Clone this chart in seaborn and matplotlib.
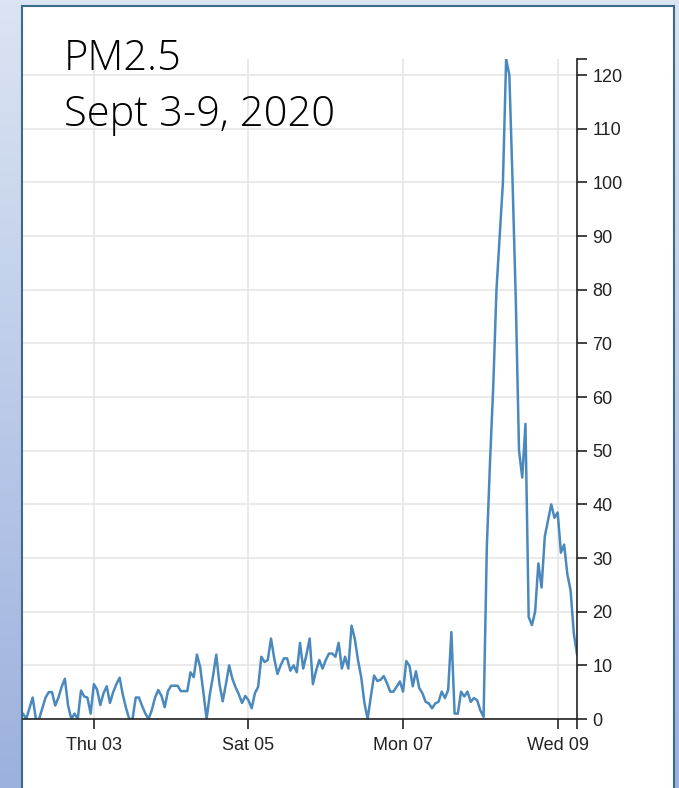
import numpy as np
import pandas as pd
import matplotlib
matplotlib.use("Agg")
import matplotlib.pyplot as plt
import matplotlib.dates as mdates
from matplotlib.patches import Rectangle
from matplotlib.colors import LinearSegmentedColormap
import seaborn as sns

# hourly PM2.5 readings starting Sept 2, 02:00
start_time = "2020-09-02 02:00"
pm25 = [
    1, 0, 2, 4, 0, 0, 2, 4, 5, 5, 2.5, 4, 6, 7.5, 2.5, 0, 1, 0, 5.3, 4.2,
    4, 1, 6.5, 5.5, 2.6, 4.8, 6.1, 3, 5, 6.5, 7.7, 4.5, 2, 0, 0, 4, 4, 2.4,
    1, 0, 1.7, 4, 5.4, 4.3, 2.2, 5.2, 6.2, 6.2, 6.2, 5.2, 5.2, 5.2, 8.7, 7.8,
    12, 9.7, 5, 0, 4.6, 8, 12, 6.5, 3.3, 6.5, 10, 7.5, 5.9, 4.6, 3, 4.3, 3.5,
    2, 4.8, 6, 11.6, 10.6, 11, 15, 11.3, 8.4, 10, 11.3, 11.3, 9, 10, 8.7,
    14.2, 9.4, 12, 15, 6.5, 9, 11, 9.4, 11, 12.2, 12.2, 11.6, 14.2, 9.4,
    11.6, 9.4, 17.4, 15, 11, 7.8, 3, 0, 4.2, 8.1, 7.1, 7.3, 8, 6.7, 5.1, 5.1,
    6, 7, 5.1, 10.8, 9.9, 6.1, 8.9, 5.8, 4.8, 3.2, 2.9, 2, 2.9, 3.2, 5.1, 3.9,
    5.4, 16.2, 1, 1, 5.1, 4.2, 5.1, 3.2, 3.9, 3.5, 1.6, 0.4, 32, 48, 62, 80,
    90, 100, 123, 120, 100, 78, 50, 45, 55, 19, 17.5, 20, 29, 24.5, 34, 37,
    40, 37.5, 38.5, 31, 32.5, 27, 24, 16, 12,
]
tick_days = ["2020-09-03", "2020-09-05", "2020-09-07", "2020-09-09"]
y_ticks = list(range(0, 130, 10))
title_lines = ["PM2.5", "Sept 3-9, 2020"]

sns.set_style("whitegrid")
plt.rcParams["font.family"] = ["Liberation Sans", "DejaVu Sans"]

df = pd.DataFrame({
    "time": pd.date_range(start_time, periods=len(pm25), freq="h"),
    "pm25": pm25,
})

W, H = 679, 788
fig = plt.figure(figsize=(W / 100, H / 100), dpi=100)

# slide background: blue gradient with a white panel
bg = fig.add_axes([0, 0, 1, 1], zorder=-2)
grad = np.linspace(0, 1, 256).reshape(-1, 1)
cmap = LinearSegmentedColormap.from_list("bg", ["#dbe4f3", "#9cb1de"])
bg.imshow(grad, cmap=cmap, aspect="auto", extent=[0, 1, 0, 1], origin="upper")
bg.add_patch(Rectangle((22 / W, -0.02), (674 - 22) / W, 1.02 - 6 / H,
                       facecolor="white", edgecolor="#3c6a88", lw=1.5))
bg.set_xlim(0, 1)
bg.set_ylim(0, 1)
bg.axis("off")

# chart
ax = fig.add_axes([23 / W, 69 / H, 554 / W, 660 / H])
ax.set_facecolor("none")
sns.lineplot(data=df, x="time", y="pm25", ax=ax, color="#4a89bd", linewidth=1.8)

ax.set_xlim(df["time"].iloc[0], df["time"].iloc[-1])
ax.set_ylim(0, max(pm25))
ax.set_xlabel("")
ax.set_ylabel("")

ax.yaxis.tick_right()
ax.set_yticks(y_ticks)
ax.set_yticks([max(pm25)], minor=True)
ax.set_xticks(pd.to_datetime(tick_days))
ax.set_xticks([df["time"].iloc[-1]], minor=True)
ax.xaxis.set_major_formatter(mdates.DateFormatter("%a %d"))
ax.xaxis.set_minor_formatter(plt.NullFormatter())

for side in ["left", "top"]:
    ax.spines[side].set_visible(False)
for side in ["right", "bottom"]:
    ax.spines[side].set_visible(True)
    ax.spines[side].set_color("#222222")
    ax.spines[side].set_linewidth(1.2)

ax.grid(True, which="major", color="#e6e6e6", lw=1.2)
ax.grid(False, which="minor")
ax.tick_params(axis="both", which="both", direction="out", length=7, width=1.2,
               color="#222222", labelsize=13, labelcolor="#222222")
ax.tick_params(axis="x", which="both", bottom=True, pad=6)
ax.tick_params(axis="y", which="both", right=True, left=False, pad=4)

# slide title
for i, line in enumerate(title_lines):
    fig.text(64 / W, 1 - (70 + 56 * i) / H, line, fontsize=30,
             family=["Open Sans", "DejaVu Sans"], fontweight="light",
             va="baseline", color="black")

fig.savefig("out.png", dpi=100)
